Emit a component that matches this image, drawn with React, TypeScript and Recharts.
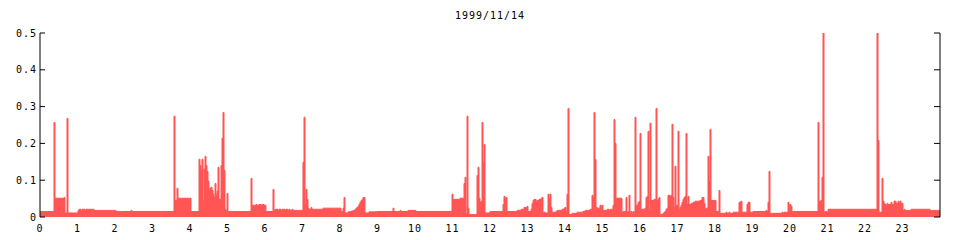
import React from 'react';
import { ComposedChart, Area, XAxis, YAxis } from 'recharts';

// step start times (hour of day) and the value held until the next step
const stepHours = [
    0, 0.373, 0.4, 0.64, 0.667, 0.72, 0.747, 1.013, 1.04, 1.093, 1.12, 1.2, 1.227, 1.44,
    2.027, 2.427, 2.453, 3.573, 3.6, 3.653, 3.68,
    4.027, 4.24, 4.267, 4.293, 4.32, 4.347, 4.373, 4.4, 4.427, 4.453, 4.48, 4.507, 4.533,
    4.56, 4.587, 4.613, 4.64, 4.667, 4.693, 4.72, 4.747, 4.773, 4.827, 4.853, 4.88, 4.907,
    4.933, 4.96, 4.987, 5.013, 5.627, 5.653, 5.76, 5.787, 5.84, 5.893, 5.92, 5.973,
    6.027, 6.213, 6.24, 6.267, 6.347, 6.373, 6.427, 6.453, 6.533, 6.56, 6.613, 6.64, 6.667,
    6.72, 6.747, 7.013, 7.04, 7.067, 7.093, 7.12, 7.147, 7.173, 7.227, 7.253, 7.547,
    8.027, 8.08, 8.107, 8.133, 8.213, 8.293, 8.347, 8.4, 8.427, 8.453, 8.48, 8.507, 8.533,
    8.56, 8.587, 8.613, 8.667, 8.773, 8.987, 9.413, 9.44, 9.6, 9.627, 9.813,
    10.027, 10.987, 11.013, 11.2, 11.307, 11.333, 11.36, 11.387, 11.413, 11.44, 11.653,
    11.68, 11.707, 11.733, 11.76, 11.787, 11.813, 11.84, 11.867,
    12.0, 12.347, 12.373, 12.4, 12.427, 12.453, 12.72, 12.827, 12.907, 12.987, 13.013,
    13.093, 13.12, 13.147, 13.173, 13.227, 13.253, 13.307, 13.36, 13.387, 13.413, 13.44,
    13.467, 13.547, 13.573, 13.6, 13.627, 13.653, 13.76, 13.787, 13.92, 13.973,
    14.0, 14.027, 14.053, 14.08, 14.107, 14.187, 14.32, 14.48, 14.533, 14.667, 14.72,
    14.747, 14.773, 14.8, 14.827, 14.853, 14.933, 14.96, 14.987, 15.013, 15.12, 15.173,
    15.2, 15.28, 15.307, 15.333, 15.36, 15.52, 15.547, 15.627, 15.653, 15.68, 15.707,
    15.733, 15.76, 15.787, 15.813, 15.84, 15.867, 15.893, 15.947, 15.973,
    16.0, 16.027, 16.133, 16.16, 16.187, 16.213, 16.24, 16.267, 16.293, 16.373, 16.427,
    16.453, 16.48, 16.507, 16.533, 16.613, 16.64, 16.667, 16.693, 16.72, 16.747, 16.8,
    16.827, 16.853, 16.88, 16.907, 16.933, 16.96, 17.013, 17.04, 17.067, 17.093, 17.12,
    17.147, 17.173, 17.2, 17.227, 17.253, 17.28, 17.307, 17.36, 17.413, 17.467, 17.6,
    17.653, 17.707, 17.733, 17.76, 17.813, 17.84, 17.867, 17.893,
    18.027, 18.107, 18.133, 18.293, 18.32, 18.373, 18.4, 18.48, 18.64, 18.693, 18.72,
    18.853, 18.88, 18.933, 19.013, 19.36, 19.387, 19.413, 19.44, 19.467, 19.787, 19.813,
    19.84, 19.947, 19.973,
    20.0, 20.027, 20.053, 20.747, 20.773, 20.827, 20.853, 20.88, 20.907, 20.933, 20.987,
    21.013, 22.32, 22.347, 22.373, 22.453, 22.48, 22.507, 22.533, 22.56, 22.587, 22.613,
    22.693, 22.72, 22.773, 22.827, 22.88, 22.907, 22.933, 22.96,
    23.013, 23.04, 23.067, 23.227, 23.733, 24,
];

const stepValues = [
    0.015, 0.257, 0.051, 0.053, 0.011, 0.268, 0.011, 0.018, 0.021, 0.018, 0.021, 0.018, 0.021, 0.018,
    0.015, 0.018, 0.015, 0.274, 0.045, 0.078, 0.051,
    0.015, 0.157, 0.14, 0.127, 0.157, 0.045, 0.13, 0.165, 0.14, 0.124, 0.097, 0.07, 0.078,
    0.081, 0.072, 0.062, 0.053, 0.091, 0.059, 0.07, 0.135, 0.048, 0.14, 0.214, 0.284, 0.127,
    0.021, 0.015, 0.064, 0.015, 0.105, 0.032, 0.034, 0.032, 0.034, 0.032, 0.034, 0.032,
    0.015, 0.075, 0.018, 0.021, 0.018, 0.021, 0.018, 0.021, 0.018, 0.021, 0.018, 0.021, 0.018,
    0.021, 0.018, 0.149, 0.271, 0.034, 0.075, 0.048, 0.024, 0.021, 0.026, 0.021, 0.024,
    0.015, 0.024, 0.053, 0.011, 0.014, 0.016, 0.018, 0.021, 0.024, 0.026, 0.029, 0.035, 0.04,
    0.045, 0.048, 0.053, 0.011, 0.014, 0.015, 0.024, 0.015, 0.018, 0.015, 0.018,
    0.015, 0.062, 0.048, 0.051, 0.091, 0.108, 0.008, 0.274, 0.024, 0.007, 0.113,
    0.135, 0.051, 0.04, 0.042, 0.257, 0.149, 0.197, 0.011,
    0.015, 0.034, 0.056, 0.051, 0.053, 0.015, 0.018, 0.021, 0.026, 0.029, 0.015,
    0.021, 0.037, 0.045, 0.048, 0.043, 0.045, 0.048, 0.051, 0.053, 0.011, 0.013,
    0.011, 0.062, 0.051, 0.062, 0.026, 0.013, 0.015, 0.018, 0.021, 0.024,
    0.026, 0.015, 0.062, 0.295, 0.007, 0.01, 0.013, 0.015, 0.018, 0.021, 0.059,
    0.053, 0.284, 0.157, 0.026, 0.024, 0.032, 0.029, 0.032, 0.018, 0.021, 0.018,
    0.021, 0.032, 0.265, 0.2, 0.051, 0.013, 0.015, 0.053, 0.013, 0.015, 0.059,
    0.013, 0.015, 0.01, 0.015, 0.013, 0.271, 0.032, 0.04, 0.042,
    0.227, 0.021, 0.024, 0.053, 0.056, 0.233, 0.021, 0.255, 0.045, 0.048, 0.295,
    0.045, 0.048, 0.053, 0.007, 0.01, 0.013, 0.015, 0.021, 0.024, 0.059, 0.056,
    0.059, 0.252, 0.053, 0.026, 0.138, 0.032, 0.233, 0.021, 0.026, 0.032, 0.04,
    0.048, 0.053, 0.056, 0.227, 0.034, 0.056, 0.034, 0.037, 0.04, 0.043, 0.045,
    0.053, 0.037, 0.021, 0.024, 0.165, 0.097, 0.238, 0.045,
    0.015, 0.072, 0.01, 0.013, 0.01, 0.013, 0.01, 0.013, 0.04, 0.043, 0.013,
    0.034, 0.04, 0.013, 0.015, 0.018, 0.015, 0.04, 0.124, 0.01, 0.013, 0.01,
    0.013, 0.04, 0.032,
    0.034, 0.029, 0.015, 0.257, 0.043, 0.045, 0.108, 0.5, 0.013, 0.015, 0.013,
    0.021, 0.5, 0.208, 0.013, 0.105, 0.043, 0.037, 0.034, 0.032, 0.037, 0.034,
    0.04, 0.034, 0.043, 0.037, 0.043, 0.037, 0.043, 0.037,
    0.018, 0.021, 0.018, 0.021, 0.018, 0.018,
];

const hourTicks = [0, 1, 2, 3, 4, 5, 6, 7, 8, 9, 10, 11, 12, 13, 14, 15, 16, 17, 18, 19, 20, 21, 22, 23];
const valueTicks = [0, 0.1, 0.2, 0.3, 0.4, 0.5];
const chartTitle = '1999/11/14';

const PLOT_TOP = 33;
const PLOT_BOTTOM = 217;
const PLOT_LEFT = 40;
const PLOT_RIGHT = 940;
const FONT = '"DejaVu Sans Mono", monospace';

const chartData = stepHours.map((h, i) => ({ h, v: stepValues[i] }));

const BottomTick = (props: any) => (
    <text x={props.x} y={PLOT_BOTTOM + 15} textAnchor="middle" fontFamily={FONT} fontSize={10}
          letterSpacing={1} fill="#000">
        {props.payload.value}
    </text>
);

const TopTick = (props: any) => (
    <line x1={props.x} y1={PLOT_TOP} x2={props.x} y2={PLOT_TOP + 5} stroke="#000" />
);

const LeftTick = (props: any) => (
    <g>
        <line x1={PLOT_LEFT} y1={props.y} x2={PLOT_LEFT + 5} y2={props.y} stroke="#000" />
        <text x={PLOT_LEFT - 3} y={props.y + 3.5} textAnchor="end" fontFamily={FONT} fontSize={10}
              letterSpacing={1} fill="#000">
            {props.payload.value}
        </text>
    </g>
);

const RightTick = (props: any) => (
    <line x1={PLOT_RIGHT} y1={props.y} x2={PLOT_RIGHT - 6} y2={props.y} stroke="#000" />
);

const App: React.FC = () => {
    return (
        <div style={{ position: 'absolute', left: 0, top: 0, width: 960, height: 240, background: '#fff' }}>
            <div style={{
                position: 'absolute', left: 0, top: 10, width: 980, textAlign: 'center',
                fontFamily: FONT, fontSize: 10, lineHeight: '11px', letterSpacing: 1, color: '#000'
            }}>
                {chartTitle}
            </div>
            <ComposedChart width={960} height={240} data={chartData}
                           margin={{ top: PLOT_TOP, right: 0, bottom: 0, left: 0 }}>
                <XAxis xAxisId="b" dataKey="h" type="number" domain={[0, 24]} ticks={hourTicks}
                       interval={0} allowDataOverflow height={23} axisLine={false} tickLine={false}
                       tick={<BottomTick />} />
                <XAxis xAxisId="t" dataKey="h" type="number" orientation="top" domain={[0, 24]}
                       ticks={hourTicks} interval={0} allowDataOverflow height={0}
                       axisLine={{ stroke: '#000' }} tickLine={false} tick={<TopTick />} />
                <YAxis yAxisId="l" type="number" domain={[0, 0.5]} ticks={valueTicks} interval={0}
                       allowDataOverflow width={40} axisLine={{ stroke: '#000' }} tickLine={false}
                       tick={<LeftTick />} />
                <YAxis yAxisId="r" type="number" orientation="right" domain={[0, 0.5]} ticks={valueTicks}
                       interval={0} allowDataOverflow width={20} axisLine={{ stroke: '#000' }}
                       tickLine={false} tick={<RightTick />} />
                <Area xAxisId="b" yAxisId="l" dataKey="v" type="stepAfter" fill="#ff5555" fillOpacity={1}
                      stroke="#ff5555" strokeWidth={1} dot={false} activeDot={false}
                      isAnimationActive={false} />
            </ComposedChart>
        </div>
    );
};

export default App;
